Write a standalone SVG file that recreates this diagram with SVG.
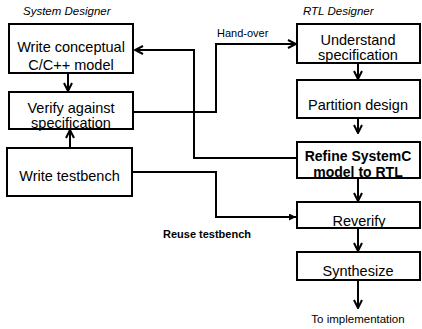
<svg xmlns="http://www.w3.org/2000/svg" width="422" height="329" viewBox="0 0 422 329">
<defs>
<style>
.box{fill:#fff;stroke:#000;stroke-width:2}
.t{font-family:"Liberation Sans",Arial,sans-serif;font-size:14.5px;fill:#000;text-anchor:middle}
.b{font-weight:bold;font-size:14px}
.lbl{font-family:"Liberation Sans",Arial,sans-serif;font-size:11px;fill:#000}
.it{font-style:italic;font-size:11.5px}
.c{fill:none;stroke:#000;stroke-width:2}
</style>
<marker id="ah" viewBox="0 0 10 10" refX="9" refY="5" markerWidth="10" markerHeight="10" markerUnits="userSpaceOnUse" orient="auto">
<path d="M1,1 L9,5 L1,9" fill="none" stroke="#000" stroke-width="2"/>
</marker>
<marker id="tri" viewBox="0 0 10 10" refX="10" refY="5" markerWidth="8" markerHeight="7" markerUnits="userSpaceOnUse" orient="auto">
<path d="M0,0 L10,5 L0,10 z" fill="#000"/>
</marker>
</defs>
<rect width="422" height="329" fill="#fff"/>
<text class="lbl it" x="23" y="15">System Designer</text>
<text class="lbl it" x="303" y="15">RTL Designer</text>
<g id="connectors">
<path class="c" d="M68,73 V91" marker-end="url(#ah)"/>
<path class="c" d="M70,148 V130" marker-end="url(#ah)"/>
<path class="c" d="M297,158 H194 V50 H135" marker-end="url(#ah)"/>
<path class="c" d="M133,112 H216 V44 H296" marker-end="url(#ah)"/>
<path class="c" d="M132,172 H216 V217 H296" marker-end="url(#tri)"/>
<path class="c" d="M358,63 V79" marker-end="url(#ah)"/>
<path class="c" d="M358,118 V133" marker-end="url(#ah)"/>
<path class="c" d="M358,178 V201" marker-end="url(#ah)"/>
<path class="c" d="M358,228 V251" marker-end="url(#ah)"/>
<path class="c" d="M358,280 V308" marker-end="url(#ah)"/>
<text class="lbl" x="217" y="37">Hand-over</text>
<text class="lbl" x="207" y="238" text-anchor="middle" font-weight="bold">Reuse testbench</text>
</g>
<g id="n1"><rect class="box" x="9" y="24" width="124" height="49"/>
<text class="t" x="71" y="52">Write conceptual</text><text class="t" x="71" y="70">C/C++ model</text></g>
<g id="n2"><rect class="box" x="9" y="92" width="124" height="37"/>
<text class="t" x="71" y="113">Verify against</text><text class="t" x="71" y="128">specification</text></g>
<g id="n3"><rect class="box" x="7" y="148" width="125" height="48"/>
<text class="t" x="69.5" y="181">Write testbench</text></g>
<g id="n4"><rect class="box" x="297" y="24" width="123" height="39"/>
<text class="t" x="358" y="45">Understand</text><text class="t" x="358" y="60">specification</text></g>
<g id="n5"><rect class="box" x="297" y="80" width="123" height="38"/>
<text class="t" x="358" y="110">Partition design</text></g>
<g id="n6"><rect class="box" x="297" y="142" width="123" height="36"/>
<text class="t b" x="358" y="161">Refine SystemC</text><text class="t b" x="358" y="177">model to RTL</text></g>
<g id="n7"><rect class="box" x="297" y="202" width="123" height="26"/>
<text class="t" x="359" y="226">Reverify</text></g>
<g id="n8"><rect class="box" x="297" y="252" width="123" height="28"/>
<text class="t" x="358" y="276">Synthesize</text></g>
<text class="lbl" x="358" y="323" text-anchor="middle" style="font-size:11.5px">To implementation</text>
</svg>
